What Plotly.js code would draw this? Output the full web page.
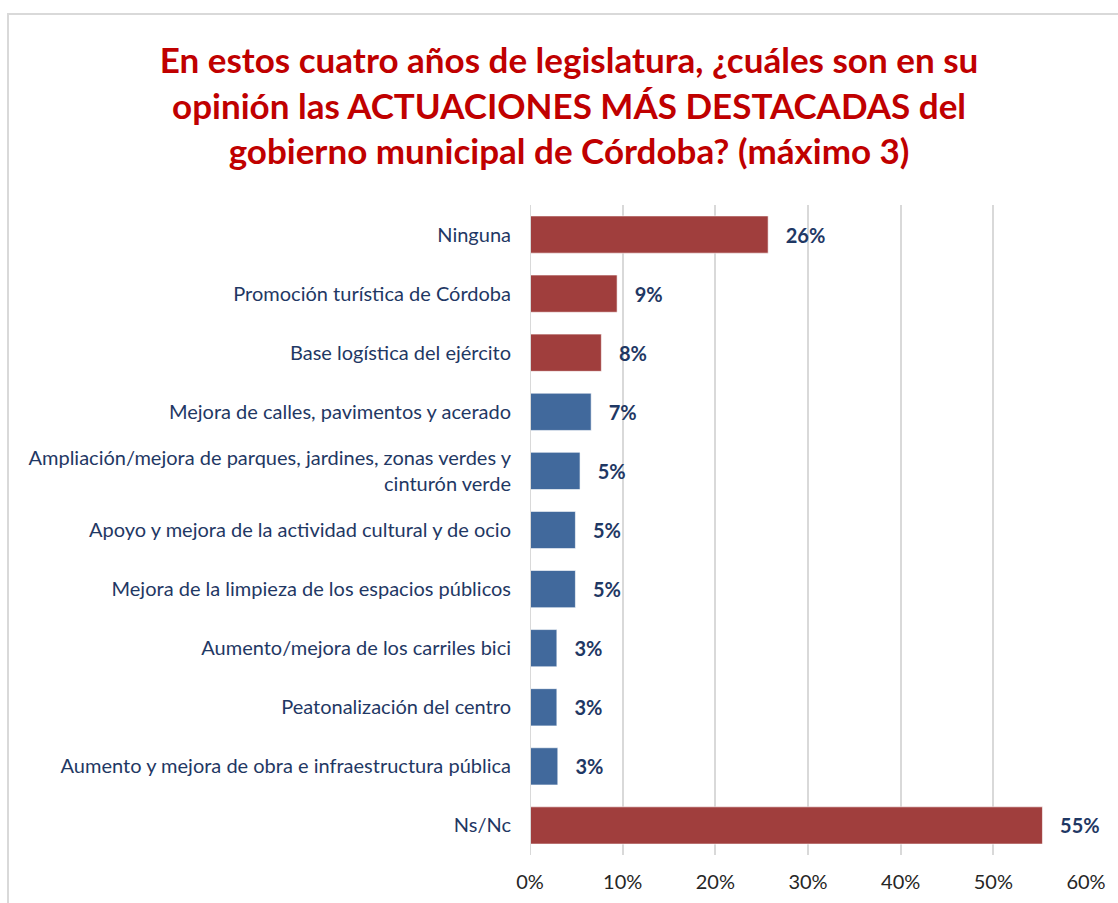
<!DOCTYPE html>
<html>
<head>
<meta charset="utf-8">
<script src="https://cdn.plot.ly/plotly-3.0.1.min.js"></script>
<style>
  html, body { margin: 0; padding: 0; background: #fff; }
  #wrap { position: relative; width: 1118px; height: 903px; overflow: hidden; }
  #chart { position: absolute; left: 0; top: 0; width: 1118px; height: 903px; }
  #frame { position: absolute; left: 7px; top: 13px; width: 1130px; height: 900px;
           border: 2px solid #D9D9D9; pointer-events: none; box-sizing: border-box; }
</style>
</head>
<body>
<div id="wrap">
  <div id="chart"></div>
  <div id="frame"></div>
</div>
<script>
const categories = [
  "Ninguna",
  "Promoción turística de Córdoba",
  "Base logística del ejército",
  "Mejora de calles, pavimentos y acerado",
  "Ampliación/mejora de parques, jardines, zonas verdes y<br>cinturón verde",
  "Apoyo y mejora de la actividad cultural y de ocio",
  "Mejora de la limpieza de los espacios públicos",
  "Aumento/mejora de los carriles bici",
  "Peatonalización del centro",
  "Aumento y mejora de obra e infraestructura pública",
  "Ns/Nc"
];
const values = [25.7, 9.4, 7.7, 6.6, 5.4, 4.9, 4.9, 2.9, 2.9, 3.0, 55.3];
const barColors = ["#A03E3D", "#A03E3D", "#A03E3D", "#41699C", "#41699C", "#41699C",
                   "#41699C", "#41699C", "#41699C", "#41699C", "#A03E3D"];
const xTickVals = [0, 10, 20, 30, 40, 50, 60];
const xTickText = ["0%", "10%", "20%", "30%", "40%", "50%", "60%"];
const titleText = "En estos cuatro años de legislatura, ¿cuáles son en su<br>opinión las ACTUACIONES MÁS DESTACADAS del<br>gobierno municipal de Córdoba? (máximo 3)";

const FONT = "Lato, 'Open Sans', sans-serif";
const NAVY = "#1F3864";

const trace = {
  type: "bar",
  orientation: "h",
  y: categories,
  x: values,
  marker: { color: barColors, line: { color: "rgba(255,255,255,0.6)", width: 1 } },
  texttemplate: "   %{x:.0f}%",
  textposition: "outside",
  textfont: { family: FONT, size: 20, color: NAVY, weight: "bold" },
  cliponaxis: false,
  hoverinfo: "skip"
};

const layout = {
  width: 1118,
  height: 903,
  margin: { l: 530, r: 32, t: 205, b: 48 },
  paper_bgcolor: "#ffffff",
  plot_bgcolor: "#ffffff",
  showlegend: false,
  bargap: 0.37,
  title: {
    text: titleText,
    font: { family: FONT, size: 35, color: "#C00000", weight: "bold" },
    x: 0.509, xanchor: "center",
    yref: "container", y: 0.919, yanchor: "middle"
  },
  xaxis: {
    range: [0, 60],
    tickvals: xTickVals,
    ticktext: xTickText,
    showgrid: true,
    gridcolor: "#D9D9D9",
    gridwidth: 2,
    zeroline: false,
    showline: false,
    ticks: "",
    ticklabelstandoff: 13,
    tickfont: { family: FONT, size: 20, color: "#262626" },
    fixedrange: true
  },
  yaxis: {
    autorange: "reversed",
    showgrid: false,
    zeroline: false,
    showline: false,
    ticks: "",
    ticklabelstandoff: 18,
    tickfont: { family: FONT, size: 20, color: NAVY },
    fixedrange: true
  },
  shapes: [{
    type: "line", xref: "x", yref: "paper",
    x0: 0, x1: 0, y0: 0, y1: 1,
    line: { color: "#D9D9D9", width: 2 }
  }]
};

Plotly.newPlot("chart", [trace], layout, { displayModeBar: false, staticPlot: true });
</script>
</body>
</html>
